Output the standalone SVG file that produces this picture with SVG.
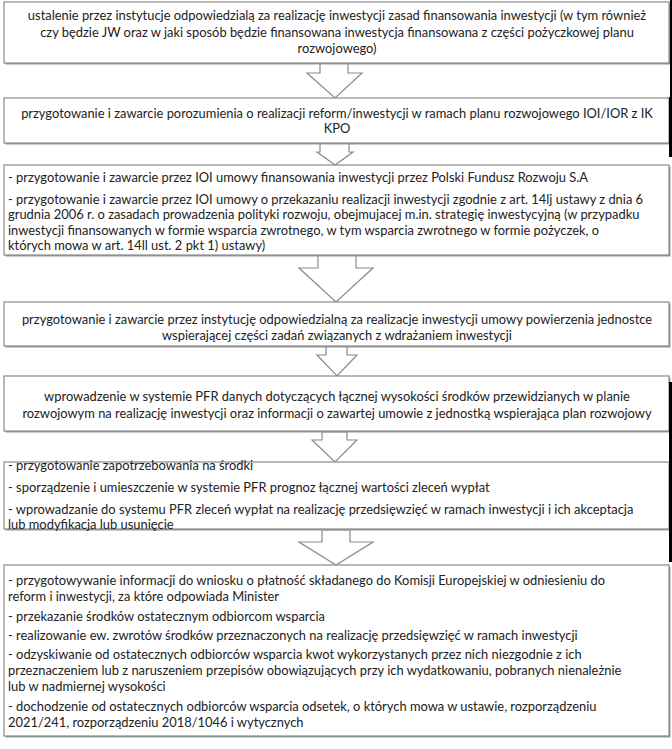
<svg xmlns="http://www.w3.org/2000/svg" width="672" height="749" viewBox="0 0 672 749">
<defs>
<style>
.box{fill:#ffffff;stroke:#8a8a8a;stroke-width:1.2}
.shadow{fill:#9a9a9a}
.arr{fill:#ffffff;stroke:#8a8a8a;stroke-width:1.2;stroke-linejoin:miter}
text{font-family:Lato,"Open Sans","Liberation Sans",sans-serif;font-size:12.9px;fill:#222222}
.c{text-anchor:middle}
.bar{fill:#000000}
</style>
</defs>
<rect width="672" height="749" fill="#ffffff"/>
<g id="connectors">
<polygon class="arr" points="320,63 348,63 348,73 362,73 335,98 307,73 320,73"/>
<polygon class="arr" points="320,143 349,143 349,152 353,152 335,165 317,152 320,152"/>
<polygon class="arr" points="318,255 356,255 356,268 373,268 336,302 299,268 318,268"/>
<polygon class="arr" points="326,346 347,346 347,355 357,355 337,376 317,355 326,355"/>
<polygon class="arr" points="322,432 347,432 347,440 357,440 335,462 312,440 322,440"/>
<polygon class="arr" points="322,530 350,530 350,542 373,542 336,565 299,542 322,542"/>
</g>
<g id="n1">
<rect class="shadow" x="5.5" y="3.5" width="665" height="61"/>
<rect class="box" x="4" y="2" width="665" height="61"/>
<text class="c" x="337" y="20">ustalenie przez instytucje odpowiedzialą za realizację inwestycji zasad finansowania inwestycji (w tym również</text>
<text class="c" x="337" y="36.5">czy będzie JW oraz w jaki sposób będzie finansowana inwestycja finansowana z części pożyczkowej planu</text>
<text class="c" x="337" y="53">rozwojowego)</text>
</g>
<g id="n2">
<rect class="shadow" x="5.5" y="99.5" width="665" height="45"/>
<rect class="box" x="4" y="98" width="665" height="45"/>
<text class="c" x="337" y="117.5">przygotowanie i zawarcie porozumienia o realizacji reform/inwestycji w ramach planu rozwojowego IOI/IOR z IK</text>
<text class="c" x="337" y="133">KPO</text>
</g>
<g id="n3">
<rect class="shadow" x="5.5" y="166.5" width="665" height="90"/>
<rect class="box" x="4" y="165" width="665" height="90"/>
<text x="8" y="181.5">- przygotowanie i zawarcie przez IOI umowy finansowania inwestycji przez Polski Fundusz Rozwoju S.A</text>
<text x="8" y="203.5">- przygotowanie i zawarcie przez IOI umowy o przekazaniu realizacji inwestycji zgodnie z art. 14lj ustawy z dnia 6</text>
<text x="8" y="219">grudnia 2006 r. o zasadach prowadzenia polityki rozwoju, obejmujacej m.in. strategię inwestycyjną (w przypadku</text>
<text x="8" y="234.5">inwestycji finansowanych w formie wsparcia zwrotnego, w tym wsparcia zwrotnego w formie pożyczek, o</text>
<text x="8" y="250">których mowa w art. 14ll ust. 2 pkt 1) ustawy)</text>
</g>
<g id="n4">
<rect class="shadow" x="5.5" y="303.5" width="665" height="44"/>
<rect class="box" x="4" y="302" width="665" height="44"/>
<text class="c" x="337" y="324">przygotowanie i zawarcie przez instytucję odpowiedzialną za realizacje inwestycji umowy powierzenia jednostce</text>
<text class="c" x="337" y="339.5">wspierającej części zadań związanych z wdrażaniem inwestycji</text>
</g>
<g id="n5">
<rect class="shadow" x="5.5" y="377.5" width="665" height="55"/>
<rect class="box" x="4" y="376" width="665" height="55"/>
<text class="c" x="337" y="400.5">wprowadzenie w systemie PFR danych dotyczących łącznej wysokości środków przewidzianych w planie</text>
<text class="c" x="337" y="417.5">rozwojowym na realizację inwestycji oraz informacji o zawartej umowie z jednostką wspierająca plan rozwojowy</text>
</g>
<g id="n6">
<rect class="shadow" x="5.5" y="463.5" width="665" height="67"/>
<rect class="box" x="4" y="462" width="665" height="67"/>
<text x="8" y="469.5">- przygotowanie zapotrzebowania na środki</text>
<text x="8" y="492">- sporządzenie i umieszczenie w systemie PFR prognoz łącznej wartości zleceń wypłat</text>
<text x="8" y="514">- wprowadzanie do systemu PFR zleceń wypłat na realizację przedsięwzięć w ramach inwestycji i ich akceptacja</text>
<text x="8" y="529">lub modyfikacja lub usunięcie</text>
</g>
<g id="n7">
<rect class="shadow" x="5.5" y="566.5" width="665" height="171"/>
<rect class="box" x="4" y="565" width="665" height="171"/>
<text x="8" y="585">- przygotowywanie informacji do wniosku o płatność składanego do Komisji Europejskiej w odniesieniu do</text>
<text x="8" y="601">reform i inwestycji, za które odpowiada Minister</text>
<text x="8" y="620.5">- przekazanie środków ostatecznym odbiorcom wsparcia</text>
<text x="8" y="639.5">- realizowanie ew. zwrotów środków przeznaczonych na realizację przedsięwzięć w ramach inwestycji</text>
<text x="8" y="658.5">- odzyskiwanie od ostatecznych odbiorców wsparcia kwot wykorzystanych przez nich niezgodnie z ich</text>
<text x="8" y="674.5">przeznaczeniem lub z naruszeniem przepisów obowiązujących przy ich wydatkowaniu, pobranych nienależnie</text>
<text x="8" y="690.5">lub w nadmiernej wysokości</text>
<text x="8" y="711">- dochodzenie od ostatecznych odbiorców wsparcia odsetek, o których mowa w ustawie, rozporządzeniu</text>
<text x="8" y="727">2021/241, rozporządzeniu 2018/1046 i wytycznych</text>
</g>
<rect class="bar" x="670" y="0" width="2" height="97"/>
<rect class="bar" x="669" y="97" width="3" height="60"/>
<rect class="bar" x="669" y="382" width="3" height="180"/>
</svg>
